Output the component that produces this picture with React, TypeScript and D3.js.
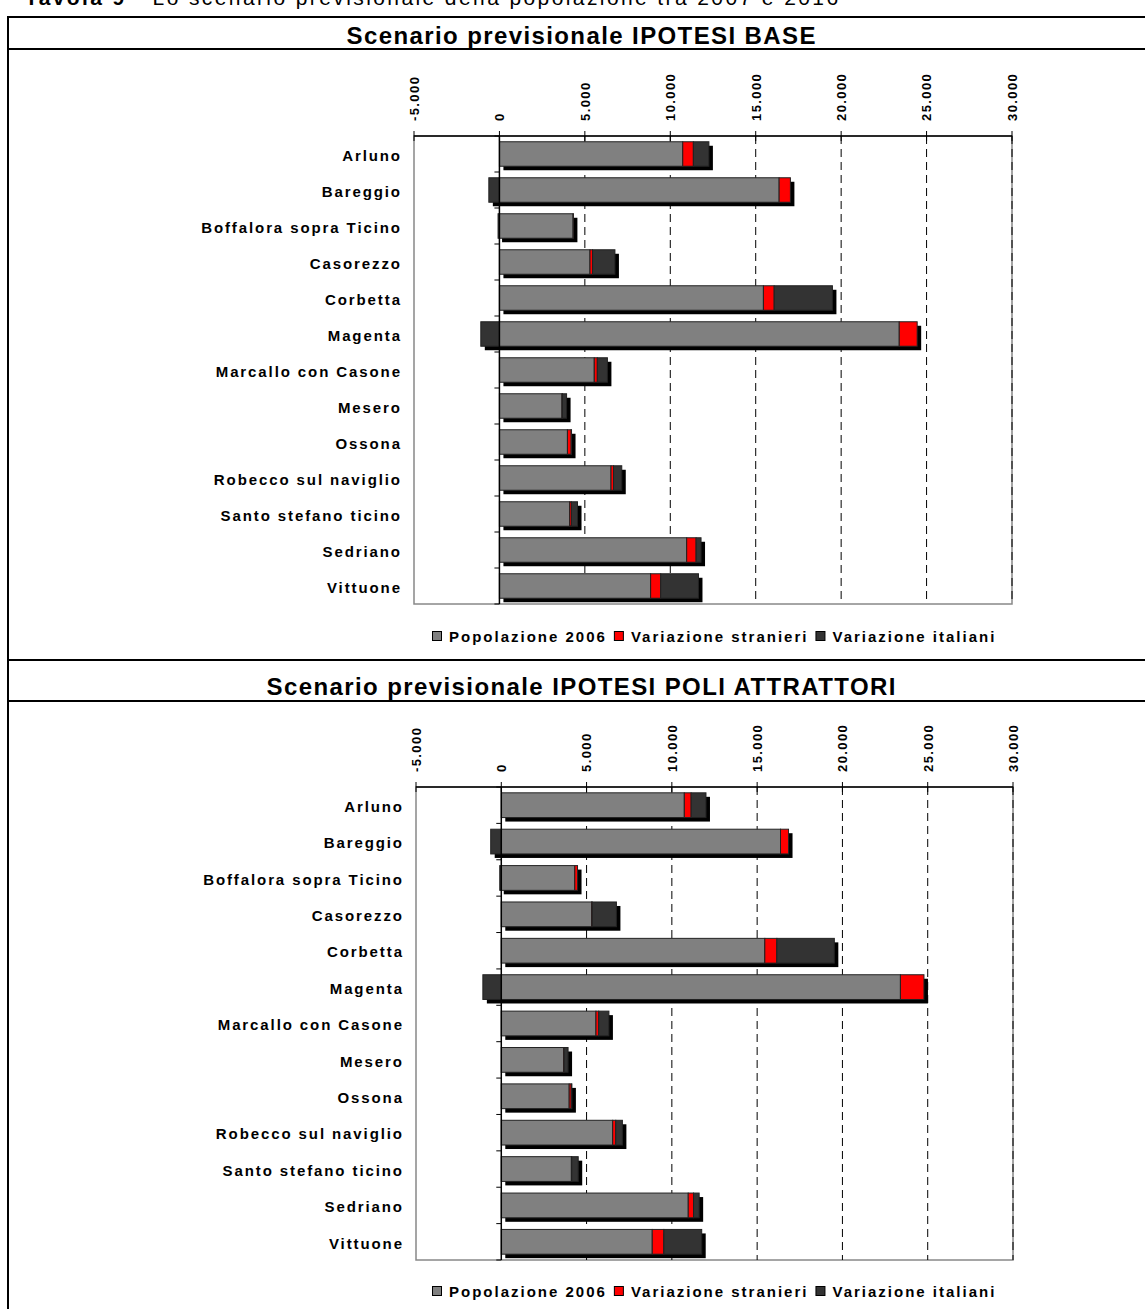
import React, { useEffect, useRef } from "react";
import * as d3 from "d3";

const categories = [
  "Arluno",
  "Bareggio",
  "Boffalora sopra Ticino",
  "Casorezzo",
  "Corbetta",
  "Magenta",
  "Marcallo con Casone",
  "Mesero",
  "Ossona",
  "Robecco sul naviglio",
  "Santo stefano ticino",
  "Sedriano",
  "Vittuone",
];

const popolazione2006 = [10730, 16370, 4310, 5300, 15450, 23400, 5550, 3660, 3980, 6530, 4110, 10960, 8850];

const baseStranieri = [620, 660, 20, 150, 630, 1050, 180, 30, 220, 150, 100, 550, 590];
const baseItaliani = [910, -620, -80, 1310, 3410, -1090, 590, 240, 20, 480, 360, 290, 2210];

const poliStranieri = [400, 470, 160, 30, 705, 1380, 160, 20, 120, 180, 20, 310, 680];
const poliItaliani = [870, -620, -90, 1420, 3370, -1080, 600, 235, 40, 390, 380, 330, 2220];

const tickValues = [-5000, 0, 5000, 10000, 15000, 20000, 25000, 30000];
const seriesNames = ["Popolazione 2006", "Variazione stranieri", "Variazione italiani"];
const seriesColors = ["#808080", "#ff0000", "#333333"];

const headerBold = "Tavola 9";
const headerRest = " - Lo scenario previsionale della popolazione tra 2007 e 2016";
const titles = ["Scenario previsionale IPOTESI BASE", "Scenario previsionale IPOTESI POLI ATTRATTORI"];

const FONT = "'Liberation Sans', Arial, sans-serif";

const fmt = (v: number) => d3.format(",")(v).replace(/,/g, ".").replace("\u2212", "-");

export default function App() {
  const ref = useRef<SVGSVGElement>(null);

  useEffect(() => {
    const svg = d3.select(ref.current);
    svg.selectAll("*").remove();

    // header (partially cut by the top edge, as in the original page)
    const hdr = svg
      .append("text")
      .attr("x", 25)
      .attr("y", 5)
      .attr("font-family", FONT)
      .attr("font-size", 21)
      .attr("letter-spacing", 2.4)
      .attr("fill", "#000");
    hdr.append("tspan").attr("font-weight", "bold").text(headerBold);
    hdr.append("tspan").text(headerRest);

    // frame
    const frame = svg.append("g").attr("stroke", "#000").attr("stroke-width", 2);
    [17, 49, 660, 701].forEach((y) => {
      frame.append("line").attr("x1", 8).attr("x2", 1145).attr("y1", y).attr("y2", y);
    });
    frame.append("line").attr("x1", 8).attr("x2", 8).attr("y1", 16).attr("y2", 1309);

    const panels = [
      {
        title: titles[0],
        titleY: 35,
        left: 414,
        right: 1012,
        top: 136,
        bottom: 604,
        labelX: 400,
        legendY: 636,
        legendX: 432,
        str: baseStranieri,
        ita: baseItaliani,
      },
      {
        title: titles[1],
        titleY: 686,
        left: 416,
        right: 1013,
        top: 787,
        bottom: 1260,
        labelX: 402,
        legendY: 1291,
        legendX: 432,
        str: poliStranieri,
        ita: poliItaliani,
      },
    ];

    panels.forEach((p) => {
      const g = svg.append("g");
      g.append("text")
        .attr("x", 581 + 0.7)
        .attr("y", p.titleY)
        .attr("dy", "0.36em")
        .attr("text-anchor", "middle")
        .attr("font-family", FONT)
        .attr("font-weight", "bold")
        .attr("font-size", 24)
        .attr("letter-spacing", 1.4)
        .text(p.title);

      const x = d3.scaleLinear().domain([-5000, 30000]).range([p.left, p.right]);
      const y = d3
        .scaleBand<string>()
        .domain(categories)
        .range([p.top, p.bottom])
        .paddingInner(0.32)
        .paddingOuter(0.16);
      const step = y.step();

      // plot area border
      g.append("rect")
        .attr("x", p.left)
        .attr("y", p.top)
        .attr("width", p.right - p.left)
        .attr("height", p.bottom - p.top)
        .attr("fill", "#fff")
        .attr("stroke", "#888")
        .attr("stroke-width", 1.5);

      // gridlines
      tickValues
        .filter((v) => v > 0)
        .forEach((v) => {
          g.append("line")
            .attr("x1", x(v))
            .attr("x2", x(v))
            .attr("y1", p.top)
            .attr("y2", p.bottom)
            .attr("stroke", "#000")
            .attr("stroke-width", 1)
            .attr("stroke-dasharray", "8,5");
        });

      // bars
      categories.forEach((c, i) => {
        const pop = popolazione2006[i];
        const s = p.str[i];
        const it = p.ita[i];
        const segs: [number, number, string][] = [];
        segs.push([0, pop, seriesColors[0]]);
        segs.push([pop, pop + s, seriesColors[1]]);
        if (it >= 0) segs.push([pop + s, pop + s + it, seriesColors[2]]);
        else segs.push([it, 0, seriesColors[2]]);
        const minV = Math.min(0, it);
        const maxV = pop + s + Math.max(0, it);
        const by = y(c)!;
        const bh = y.bandwidth();
        g.append("rect")
          .attr("x", x(minV) + 4)
          .attr("y", by + 4)
          .attr("width", x(maxV) - x(minV))
          .attr("height", bh)
          .attr("fill", "#000");
        segs.forEach(([a, b, col]) => {
          g.append("rect")
            .attr("x", x(a))
            .attr("y", by)
            .attr("width", Math.max(0, x(b) - x(a)))
            .attr("height", bh)
            .attr("fill", col)
            .attr("stroke", "#222")
            .attr("stroke-width", 1);
        });
      });

      // zero (category) axis
      g.append("line")
        .attr("x1", x(0))
        .attr("x2", x(0))
        .attr("y1", p.top)
        .attr("y2", p.bottom)
        .attr("stroke", "#000")
        .attr("stroke-width", 1.5);
      d3.range(categories.length + 1).forEach((k) => {
        const yy = p.top + k * step;
        g.append("line")
          .attr("x1", x(0) - 5)
          .attr("x2", x(0))
          .attr("y1", yy)
          .attr("y2", yy)
          .attr("stroke", "#000")
          .attr("stroke-width", 1);
      });

      // category labels
      categories.forEach((c) => {
        g.append("text")
          .attr("x", p.labelX + 1.9)
          .attr("y", y(c)! + y.bandwidth() / 2)
          .attr("dy", "0.45em")
          .attr("text-anchor", "end")
          .attr("font-family", FONT)
          .attr("font-weight", "bold")
          .attr("font-size", 15)
          .attr("letter-spacing", 1.9)
          .text(c);
      });

      // top value axis
      g.append("line")
        .attr("x1", p.left)
        .attr("x2", p.right)
        .attr("y1", p.top)
        .attr("y2", p.top)
        .attr("stroke", "#000")
        .attr("stroke-width", 1.5);
      tickValues.forEach((v) => {
        g.append("line")
          .attr("x1", x(v))
          .attr("x2", x(v))
          .attr("y1", p.top - 5)
          .attr("y2", p.top + 5)
          .attr("stroke", "#000")
          .attr("stroke-width", 1);
        const ly = p.top - 15;
        g.append("text")
          .attr("transform", `translate(${x(v) + 4.8},${ly}) rotate(-90)`)
          .attr("text-anchor", "start")
          .attr("font-family", FONT)
          .attr("font-weight", "bold")
          .attr("font-size", 13)
          .attr("letter-spacing", 1.4)
          .text(fmt(v));
      });

      // legend
      let lx = p.legendX;
      seriesNames.forEach((name, k) => {
        g.append("rect")
          .attr("x", lx + 0.5)
          .attr("y", p.legendY - 4.5)
          .attr("width", 9)
          .attr("height", 9)
          .attr("fill", seriesColors[k])
          .attr("stroke", "#000")
          .attr("stroke-width", 1);
        const t = g
          .append("text")
          .attr("x", lx + 17)
          .attr("y", p.legendY)
          .attr("dy", "0.38em")
          .attr("font-family", FONT)
          .attr("font-weight", "bold")
          .attr("font-size", 15)
          .attr("letter-spacing", 2)
          .text(name);
        const w = (t.node() as SVGTextElement).getComputedTextLength();
        lx = lx + 17 + w + 7;
      });
    });
  }, []);

  return (
    <svg
      ref={ref}
      width={1145}
      height={1309}
      style={{ position: "absolute", left: 0, top: 0, background: "#fff" }}
    />
  );
}
